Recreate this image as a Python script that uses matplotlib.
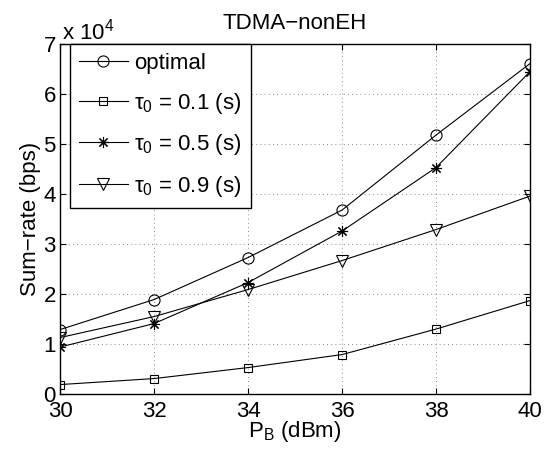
import numpy as np
import matplotlib.pyplot as plt
from matplotlib.ticker import FuncFormatter

plt.rcParams['font.family'] = ['Liberation Sans', 'DejaVu Sans']
plt.rcParams['mathtext.fontset'] = 'custom'
plt.rcParams['mathtext.rm'] = 'Liberation Sans'
plt.rcParams['mathtext.it'] = 'Liberation Sans'

# transmit power (dBm)
p_b = [30, 32, 34, 36, 38, 40]

# sum-rate (bps)
rate_opt  = [12900, 18900, 27300, 36800, 51800, 66100]
rate_t01  = [1900, 3100, 5300, 7900, 13000, 18700]
rate_t05  = [9400, 14100, 22300, 32600, 45300, 64500]
rate_t09  = [11300, 15500, 20900, 26700, 32900, 39600]

fs = 16

fig = plt.figure(figsize=(5.51, 4.54), dpi=100)
ax = fig.add_axes([0.109, 0.132, 0.853, 0.771])

star = (8, 2, 0)
ax.plot(p_b, rate_opt, 'k-', lw=0.8, marker='o', ms=8, mfc='none', mew=0.8, label='optimal')
ax.plot(p_b, rate_t01, 'k-', lw=0.8, marker='s', ms=6, mfc='none', mew=0.8, label='\u03c4$_0$ = 0.1 (s)')
ax.plot(p_b, rate_t05, 'k-', lw=0.8, marker=star, ms=8, mew=0.8, label='\u03c4$_0$ = 0.5 (s)')
ax.plot(p_b, rate_t09, 'k-', lw=0.8, marker='v', ms=8, mfc='none', mew=0.8, label='\u03c4$_0$ = 0.9 (s)')

ax.set_xlim(30, 40)
ax.set_ylim(0, 70000)
ax.set_xticks(np.arange(30, 41, 2))
ax.set_yticks(np.arange(0, 70001, 10000))
ax.yaxis.set_major_formatter(FuncFormatter(lambda v, pos: '%d' % round(v / 1e4)))
ax.grid(True, ls=(0, (1, 4)), color='k', lw=0.6, alpha=0.6)
ax.tick_params(direction='in', top=True, right=True, labelsize=fs, length=4)
ax.tick_params(axis='x', pad=5)
ax.tick_params(axis='y', pad=3)
for s in ax.spines.values():
    s.set_linewidth(1.0)

ax.set_title('TDMA\u2212nonEH', fontsize=fs, pad=11)
ax.set_xlabel('P$_\\mathrm{B}$ (dBm)', fontsize=fs, labelpad=-2)
ax.set_ylabel('Sum\u2212rate (bps)', fontsize=fs, labelpad=2)
ax.text(0.005, 1.0, 'x 10$^4$', transform=ax.transAxes, fontsize=fs, va='bottom', ha='left')

leg = ax.legend(loc='upper left', bbox_to_anchor=(0.021, 1.0), borderaxespad=0,
                fontsize=fs, fancybox=False, framealpha=1, edgecolor='k',
                handlelength=2.2, handletextpad=0.3, labelspacing=0.75, borderpad=0.4)
leg.get_frame().set_linewidth(1.0)

fig.savefig('out.png', dpi=100)
